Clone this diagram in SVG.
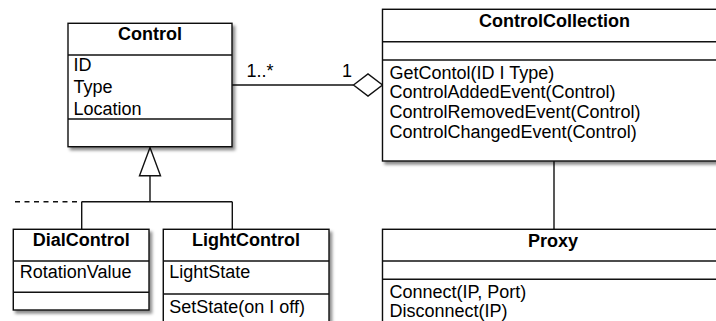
<svg xmlns="http://www.w3.org/2000/svg" width="716" height="321" viewBox="0 0 716 321">
  <defs>
    <filter id="shadow" x="-10%" y="-10%" width="130%" height="130%">
      <feDropShadow dx="2.5" dy="3" stdDeviation="1.8" flood-color="#000" flood-opacity="0.45"/>
    </filter>
    <style>
      .box { fill: #ffffff; stroke: #111111; stroke-width: 1.4; }
      .sep { stroke: #111111; stroke-width: 1.4; fill: none; }
      .line { stroke: #111111; stroke-width: 1.4; fill: none; }
      .title { font-family: "Liberation Sans", Arial, Helvetica, sans-serif; font-size: 18px; font-weight: bold; fill: #000; text-anchor: middle; }
      .txt { font-family: "Liberation Sans", Arial, Helvetica, sans-serif; font-size: 18px; fill: #000; }
    </style>
  </defs>
  <rect x="0" y="0" width="716" height="321" fill="#ffffff"/>

  <g id="connectors">
    <!-- association Control - ControlCollection -->
    <line class="line" x1="232" y1="85" x2="353.5" y2="85"/>
    <polygon class="line" fill="#ffffff" points="353.5,85 368,74 382.5,85 368,96"/>
    <text class="txt" x="246.5" y="77">1..*</text>
    <text class="txt" x="342" y="77">1</text>
    <!-- generalization -->
    <polygon class="line" fill="#ffffff" points="150,147.5 160.5,175.7 139.5,175.7"/>
    <line class="line" x1="150" y1="175.7" x2="150" y2="201.7"/>
    <line class="line" x1="81.7" y1="201.7" x2="232.3" y2="201.7"/>
    <line class="line" x1="15" y1="201.7" x2="81.7" y2="201.7" stroke-dasharray="5,4.5"/>
    <line class="line" x1="81.7" y1="201.7" x2="81.7" y2="229.3"/>
    <line class="line" x1="232.3" y1="201.7" x2="232.3" y2="229.3"/>
    <!-- ControlCollection - Proxy -->
    <line class="line" x1="554" y1="161" x2="554" y2="229.3"/>
  </g>

  <g id="Control">
    <rect class="box" x="68" y="23.3" width="164" height="123.4" filter="url(#shadow)"/>
    <line class="sep" x1="68" y1="55" x2="232" y2="55"/>
    <line class="sep" x1="68" y1="119" x2="232" y2="119"/>
    <text class="title" x="150" y="39.5">Control</text>
    <text class="txt" x="73.5" y="70.5">ID</text>
    <text class="txt" x="73.5" y="92.5">Type</text>
    <text class="txt" x="73.5" y="114.5">Location</text>
  </g>

  <g id="ControlCollection">
    <rect class="box" x="382.5" y="9.3" width="345" height="151.7" filter="url(#shadow)"/>
    <line class="sep" x1="382.5" y1="41.7" x2="727.5" y2="41.7"/>
    <line class="sep" x1="382.5" y1="60" x2="727.5" y2="60"/>
    <text class="title" x="554.5" y="26.5">ControlCollection</text>
    <text class="txt" x="389.5" y="78.5">GetContol(ID I Type)</text>
    <text class="txt" x="389.5" y="98">ControlAddedEvent(Control)</text>
    <text class="txt" x="389.5" y="118">ControlRemovedEvent(Control)</text>
    <text class="txt" x="389.5" y="137.5">ControlChangedEvent(Control)</text>
  </g>

  <g id="DialControl">
    <rect class="box" x="13.3" y="229.3" width="135.7" height="80.7" filter="url(#shadow)"/>
    <line class="sep" x1="13.3" y1="261" x2="149" y2="261"/>
    <line class="sep" x1="13.3" y1="292.3" x2="149" y2="292.3"/>
    <text class="title" x="81.2" y="245.5">DialControl</text>
    <text class="txt" x="19.8" y="278">RotationValue</text>
  </g>

  <g id="LightControl">
    <rect class="box" x="163.3" y="229.3" width="165.7" height="110" filter="url(#shadow)"/>
    <line class="sep" x1="163.3" y1="261" x2="329" y2="261"/>
    <line class="sep" x1="163.3" y1="294" x2="329" y2="294"/>
    <text class="title" x="246" y="245.5">LightControl</text>
    <text class="txt" x="169.3" y="278">LightState</text>
    <text class="txt" x="169.3" y="312.5">SetState(on I off)</text>
  </g>

  <g id="Proxy">
    <rect class="box" x="382.5" y="229.3" width="345" height="110" filter="url(#shadow)"/>
    <line class="sep" x1="382.5" y1="261" x2="727.5" y2="261"/>
    <line class="sep" x1="382.5" y1="279.3" x2="727.5" y2="279.3"/>
    <text class="title" x="553" y="246.5">Proxy</text>
    <text class="txt" x="389.5" y="298">Connect(IP, Port)</text>
    <text class="txt" x="389.5" y="316.5">Disconnect(IP)</text>
  </g>
</svg>
